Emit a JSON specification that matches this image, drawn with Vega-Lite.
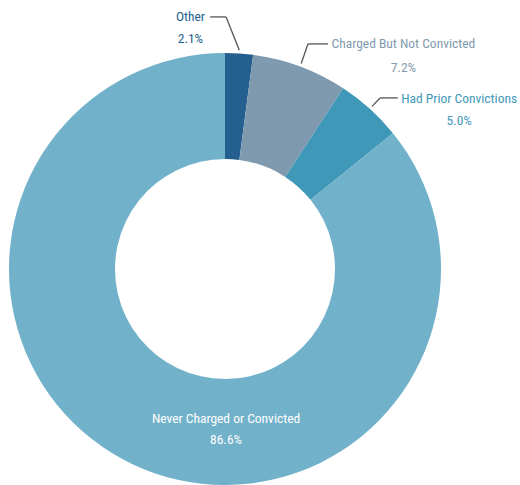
{
  "$schema": "https://vega.github.io/schema/vega-lite/v6.json",
  "width": 520,
  "height": 485,
  "padding": 0,
  "autosize": {"type": "none"},
  "background": "white",
  "config": {"view": {"stroke": null}, "text": {"font": "Roboto Condensed", "fontSize": 13.5, "fontWeight": "normal"}},
  "data": {
    "values": [
      {"category": "Other", "percent": 2.1},
      {"category": "Charged But Not Convicted", "percent": 7.2},
      {"category": "Had Prior Convictions", "percent": 5.0},
      {"category": "Never Charged or Convicted", "percent": 86.6}
    ]
  },
  "transform": [
    {"joinaggregate": [{"op": "sum", "field": "percent", "as": "total"}]},
    {"window": [{"op": "row_number", "as": "order"}, {"op": "sum", "field": "percent", "as": "cum"}], "frame": [null, 0]},
    {"calculate": "(datum.cum - datum.percent / 2) / datum.total * 2 * PI", "as": "mid"},
    {"calculate": "1.015 * sin(datum.mid)", "as": "sx"},
    {"calculate": "1.015 * cos(datum.mid)", "as": "sy"},
    {"calculate": "format(datum.percent, '.1f') + '%'", "as": "pct"},
    {"calculate": "datum.category == 'Other' ? 0.005 : datum.category == 'Charged But Not Convicted' ? 0.384 : 0.718", "as": "ex"},
    {"calculate": "datum.category == 'Other' ? 1.167 : datum.category == 'Charged But Not Convicted' ? 1.042 : 0.792", "as": "ey"},
    {"calculate": "datum.category == 'Other' ? -0.069 : datum.category == 'Charged But Not Convicted' ? 0.477 : 0.800", "as": "hx"},
    {"calculate": "datum.category == 'Other' ? -0.160 : datum.category == 'Charged But Not Convicted' ? 0.826 : datum.category == 'Had Prior Convictions' ? 1.084 : 0.005", "as": "lx"},
    {"calculate": "datum.category == 'Other' ? 1.167 : datum.category == 'Charged But Not Convicted' ? 1.042 : datum.category == 'Had Prior Convictions' ? 0.787 : -0.694", "as": "ly"},
    {"calculate": "datum.category == 'Other' ? 1.065 : datum.category == 'Charged But Not Convicted' ? 0.931 : datum.category == 'Had Prior Convictions' ? 0.6875 : -0.792", "as": "py"}
  ],
  "layer": [
    {
      "mark": {"type": "arc", "outerRadius": 216, "innerRadius": 110},
      "encoding": {
        "theta": {"field": "percent", "type": "quantitative", "stack": true},
        "order": {"field": "order", "type": "quantitative"},
        "color": {
          "field": "category", "type": "nominal", "legend": null,
          "scale": {
            "domain": ["Other", "Charged But Not Convicted", "Had Prior Convictions", "Never Charged or Convicted"],
            "range": ["#255f8f", "#7f9aae", "#3f98b8", "#72b1ca"]
          }
        },
        "x": {"datum": 0, "type": "quantitative", "scale": {"domain": [-1.0417, 1.3657], "nice": false, "zero": false}, "axis": null},
        "y": {"datum": 0, "type": "quantitative", "scale": {"domain": [-1.0, 1.2454], "nice": false, "zero": false}, "axis": null}
      }
    },
    {
      "transform": [{"filter": "datum.category != 'Never Charged or Convicted'"}],
      "mark": {"type": "rule", "color": "#555555", "strokeWidth": 1.3},
      "encoding": {
        "x": {"field": "sx", "type": "quantitative"},
        "y": {"field": "sy", "type": "quantitative"},
        "x2": {"field": "ex"},
        "y2": {"field": "ey"}
      }
    },
    {
      "transform": [{"filter": "datum.category != 'Never Charged or Convicted'"}],
      "mark": {"type": "rule", "color": "#555555", "strokeWidth": 1.3},
      "encoding": {
        "x": {"field": "ex", "type": "quantitative"},
        "y": {"field": "ey", "type": "quantitative"},
        "x2": {"field": "hx"}
      }
    },
    {
      "mark": {"type": "text", "align": "center", "baseline": "middle"},
      "encoding": {
        "x": {"field": "lx", "type": "quantitative"},
        "y": {"field": "ly", "type": "quantitative"},
        "text": {"field": "category"},
        "color": {"field": "category", "type": "nominal", "legend": null,
          "scale": {"domain": ["Other", "Charged But Not Convicted", "Had Prior Convictions", "Never Charged or Convicted"],
            "range": ["#255f8f", "#7f9aae", "#3f98b8", "#ffffff"]}}
      }
    },
    {
      "mark": {"type": "text", "align": "center", "baseline": "middle"},
      "encoding": {
        "x": {"field": "lx", "type": "quantitative"},
        "y": {"field": "py", "type": "quantitative"},
        "text": {"field": "pct"},
        "color": {"field": "category", "type": "nominal", "legend": null,
          "scale": {"domain": ["Other", "Charged But Not Convicted", "Had Prior Convictions", "Never Charged or Convicted"],
            "range": ["#255f8f", "#7f9aae", "#3f98b8", "#ffffff"]}}
      }
    }
  ],
  "resolve": {"scale": {"color": "independent"}}
}
